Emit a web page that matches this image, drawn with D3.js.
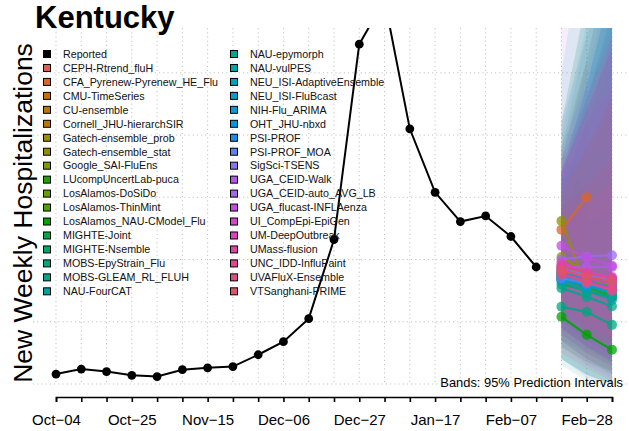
<!DOCTYPE html>
<html>
<head>
<meta charset="utf-8">
<script src="https://cdn.jsdelivr.net/npm/d3@7"></script>
<style>
  html, body { margin: 0; padding: 0; background: #fff; }
  svg { display: block; font-family: "Liberation Sans", Arial, sans-serif; }
</style>
</head>
<body>
<svg id="chart" width="629" height="431"></svg>
<script>
// ---------------- DATA ----------------
const stateName = "Kentucky";
const yLabel = "New Weekly Hospitalizations";
const bandNote = "Bands: 95% Prediction Intervals";

const reportedDates = ["2025-10-04","2025-10-11","2025-10-18","2025-10-25","2025-11-01","2025-11-08",
  "2025-11-15","2025-11-22","2025-11-29","2025-12-06","2025-12-13","2025-12-20","2025-12-27",
  "2026-01-03","2026-01-10","2026-01-17","2026-01-24","2026-01-31","2026-02-07","2026-02-14"];
const reportedValues = [16, 24, 20, 14, 12, 23, 26, 28, 47, 68, 105, 232, 546, 617, 410, 308, 261, 270, 237, 188];

const forecastDates = ["2026-02-21","2026-02-28","2026-03-07"];

const tickStart = "2025-10-04";
const tickEnd = "2026-03-07";
const tickLabels = ["Oct−04","Oct−25","Nov−15","Dec−06","Dec−27","Jan−17","Feb−07","Feb−28"];
const gridValues = [0, 100, 200, 300, 400, 500];

const models = ["CEPH-Rtrend_fluH","CFA_Pyrenew-Pyrenew_HE_Flu","CMU-TimeSeries","CU-ensemble",
  "Cornell_JHU-hierarchSIR","Gatech-ensemble_prob","Gatech-ensemble_stat","Google_SAI-FluEns",
  "LUcompUncertLab-puca","LosAlamos-DoSiDo","LosAlamos-ThinMint","LosAlamos_NAU-CModel_Flu",
  "MIGHTE-Joint","MIGHTE-Nsemble","MOBS-EpyStrain_Flu","MOBS-GLEAM_RL_FLUH","NAU-FourCAT",
  "NAU-epymorph","NAU-vulPES","NEU_ISI-AdaptiveEnsemble","NEU_ISI-FluBcast","NIH-Flu_ARIMA",
  "OHT_JHU-nbxd","PSI-PROF","PSI-PROF_MOA","SigSci-TSENS","UGA_CEID-Walk","UGA_CEID-auto_AVG_LB",
  "UGA_flucast-INFLAenza","UI_CompEpi-EpiGen","UM-DeepOutbreak","UMass-flusion",
  "UNC_IDD-InfluPaint","UVAFluX-Ensemble","VTSanghani-PRIME"];

const medianValues = [
  [185,178,170],[248,300,null],[178,168,160],[170,155,140],[182,172,162],[204,180,165],
  [262,153,140],[190,170,155],[175,160,150],[180,170,158],[172,162,150],[108,79,55],
  [168,155,142],[160,150,140],[124,116,95],[154,140,125],[165,150,135],[176,160,145],
  [170,158,147],[180,166,150],[172,160,150],[178,170,162],[168,158,150],[175,165,155],
  [170,162,152],[185,175,168],[188,188,188],[200,205,207],[222,203,190],[195,180,172],
  [185,170,160],[178,165,152],[190,178,170],[176,163,150],[182,172,165]];

const lowerValues = [
  [60,35,15],[160,170,null],[110,80,55],[100,70,45],[80,50,25],[120,90,60],
  [150,80,60],[110,80,50],[40,15,0],[100,75,50],[90,60,35],[60,35,20],
  [90,60,35],[70,40,15],[70,50,30],[80,55,35],[40,15,0],[30,5,0],
  [70,40,20],[100,70,45],[90,60,40],[40,15,0],[100,70,50],[90,60,35],
  [90,60,40],[60,30,10],[40,10,0],[90,60,40],[120,90,70],[80,50,30],
  [120,95,75],[70,40,20],[50,25,5],[110,80,55],[90,60,40]];

const upperValues = [
  [330,450,600],[380,520,null],[280,360,450],[300,420,560],[360,520,700],[320,380,440],
  [380,300,280],[300,380,460],[420,620,800],[300,360,420],[330,460,600],[200,190,180],
  [320,420,520],[380,560,720],[220,260,280],[340,480,640],[400,580,750],[500,750,950],
  [340,440,540],[340,480,640],[360,520,700],[420,620,800],[340,480,640],[340,460,580],
  [360,500,660],[420,560,680],[600,700,800],[380,480,560],[350,420,480],[340,440,540],
  [260,290,320],[340,440,540],[360,460,560],[280,320,360],[300,380,460]];

const modelColors = ["#e0604f","#d9652a","#c87000","#b57a00","#c07600","#9a8e00","#8f9000",
  "#7f9a00","#1ea400","#6a9d00","#4fa000","#00a300","#00a54c","#00a66a","#00a67e","#00a68b",
  "#00a2a0","#00a596","#00a4a6","#00a2b8","#00a0c8","#009dd6","#0096e6","#1a8cf0","#5e80f0",
  "#8576f0","#b15ae8","#9c69f0","#c04fe0","#d448c8","#e040b8","#e043a2","#e2468d","#e04d7a",
  "#dc5568"];

// ---------------- CHART ----------------
const svg = d3.select("#chart");
const W = 629, H = 431;
const parse = d3.utcParse("%Y-%m-%d");

const x = d3.scaleUtc().domain([parse(tickStart), parse(tickEnd)]).range([56, 612]);
const y = d3.scaleLinear().domain([0, 572]).range([384, 28]);

svg.append("rect").attr("width", W).attr("height", H).attr("fill", "#fff");

const defs = svg.append("defs");
defs.append("clipPath").attr("id", "plotclip")
  .append("rect").attr("x", 0).attr("y", 28).attr("width", W).attr("height", 370);

const allWeeks = d3.utcSaturday.range(parse(tickStart), d3.utcDay.offset(parse(tickEnd), 1));

// grid
const grid = svg.append("g").attr("stroke", "#c4c4c4").attr("stroke-width", 1)
  .attr("stroke-dasharray", "1.2,3");
grid.selectAll("line.v").data(allWeeks).join("line")
  .attr("x1", d => x(d)).attr("x2", d => x(d))
  .attr("y1", y(572)).attr("y2", y(0));
grid.selectAll("line.h").data(gridValues).join("line")
  .attr("x1", 33).attr("x2", W)
  .attr("y1", d => y(d)).attr("y2", d => y(d));

const plot = svg.append("g").attr("clip-path", "url(#plotclip)");

// bands
const fDates = forecastDates.map(parse);
models.forEach((m, i) => {
  const pts = fDates.map((d, j) => ({d, lo: lowerValues[i][j], hi: upperValues[i][j]}))
    .filter(p => p.lo != null && p.hi != null);
  const area = d3.area().x(p => x(p.d)).y0(p => y(p.lo)).y1(p => y(p.hi));
  plot.append("path").datum(pts).attr("d", area)
    .attr("fill", modelColors[i]).attr("fill-opacity", 0.1).attr("stroke", "none");
});

// reported
const rep = reportedDates.map((d, i) => ({d: parse(d), v: reportedValues[i]}));
plot.append("path").datum(rep)
  .attr("d", d3.line().x(p => x(p.d)).y(p => y(p.v)))
  .attr("fill", "none").attr("stroke", "#000").attr("stroke-width", 2);
plot.selectAll("circle.rep").data(rep).join("circle")
  .attr("cx", p => x(p.d)).attr("cy", p => y(p.v)).attr("r", 4.4).attr("fill", "#000");

// forecast medians
models.forEach((m, i) => {
  const pts = fDates.map((d, j) => ({d, v: medianValues[i][j]})).filter(p => p.v != null);
  const g = plot.append("g");
  g.append("path").datum(pts)
    .attr("d", d3.line().x(p => x(p.d)).y(p => y(p.v)))
    .attr("fill", "none").attr("stroke", modelColors[i]).attr("stroke-width", 2.2)
    .attr("stroke-opacity", 0.85);
  g.selectAll("circle").data(pts).join("circle")
    .attr("cx", p => x(p.d)).attr("cy", p => y(p.v)).attr("r", 5)
    .attr("fill", modelColors[i]).attr("fill-opacity", 0.75);
});

// axis
const axis = d3.axisBottom(x).tickValues(allWeeks).tickSizeOuter(0).tickSize(5).tickPadding(12.3)
  .tickFormat((d, i) => i % 3 === 0 ? tickLabels[i / 3] : "");
const ax = svg.append("g").attr("transform", "translate(0,397)").call(axis);
ax.select(".domain").attr("stroke", "#000").attr("stroke-width", 1.6);
ax.selectAll(".tick line").attr("stroke", "#000").attr("stroke-width", 1.6);
ax.selectAll(".tick text").attr("font-size", 15).attr("fill", "#000")
  .attr("font-family", "Liberation Sans, Arial, sans-serif");

// title
svg.append("text").attr("x", 35).attr("y", 28).attr("font-size", 31).attr("font-weight", "bold")
  .attr("fill", "#000").text(stateName);

// y label
svg.append("text").attr("transform", "translate(32,213) rotate(-90)")
  .attr("text-anchor", "middle").attr("font-size", 26.5).attr("fill", "#000").text(yLabel);

// band note
svg.append("text").attr("x", 623).attr("y", 386.5).attr("text-anchor", "end")
  .attr("font-size", 12.9).attr("fill", "#000").text(bandNote);

// legend
const legendNames = ["Reported"].concat(models);
const legendColors = ["#000000"].concat(modelColors);
const leg = svg.append("g");
legendNames.forEach((name, i) => {
  const col = i < 18 ? 0 : 1;
  const row = i % 18;
  const lx = col === 0 ? 43.5 : 230.5;
  const ly = 54 + row * 13.96;
  leg.append("rect").attr("x", lx).attr("y", ly - 3.5).attr("width", 7).attr("height", 7)
    .attr("fill", legendColors[i]).attr("stroke", "#000").attr("stroke-width", 1);
  leg.append("text").attr("x", lx + 19.5).attr("y", ly + 3.8).attr("font-size", 10.7)
    .attr("fill", "#111").text(name);
});
</script>
</body>
</html>
